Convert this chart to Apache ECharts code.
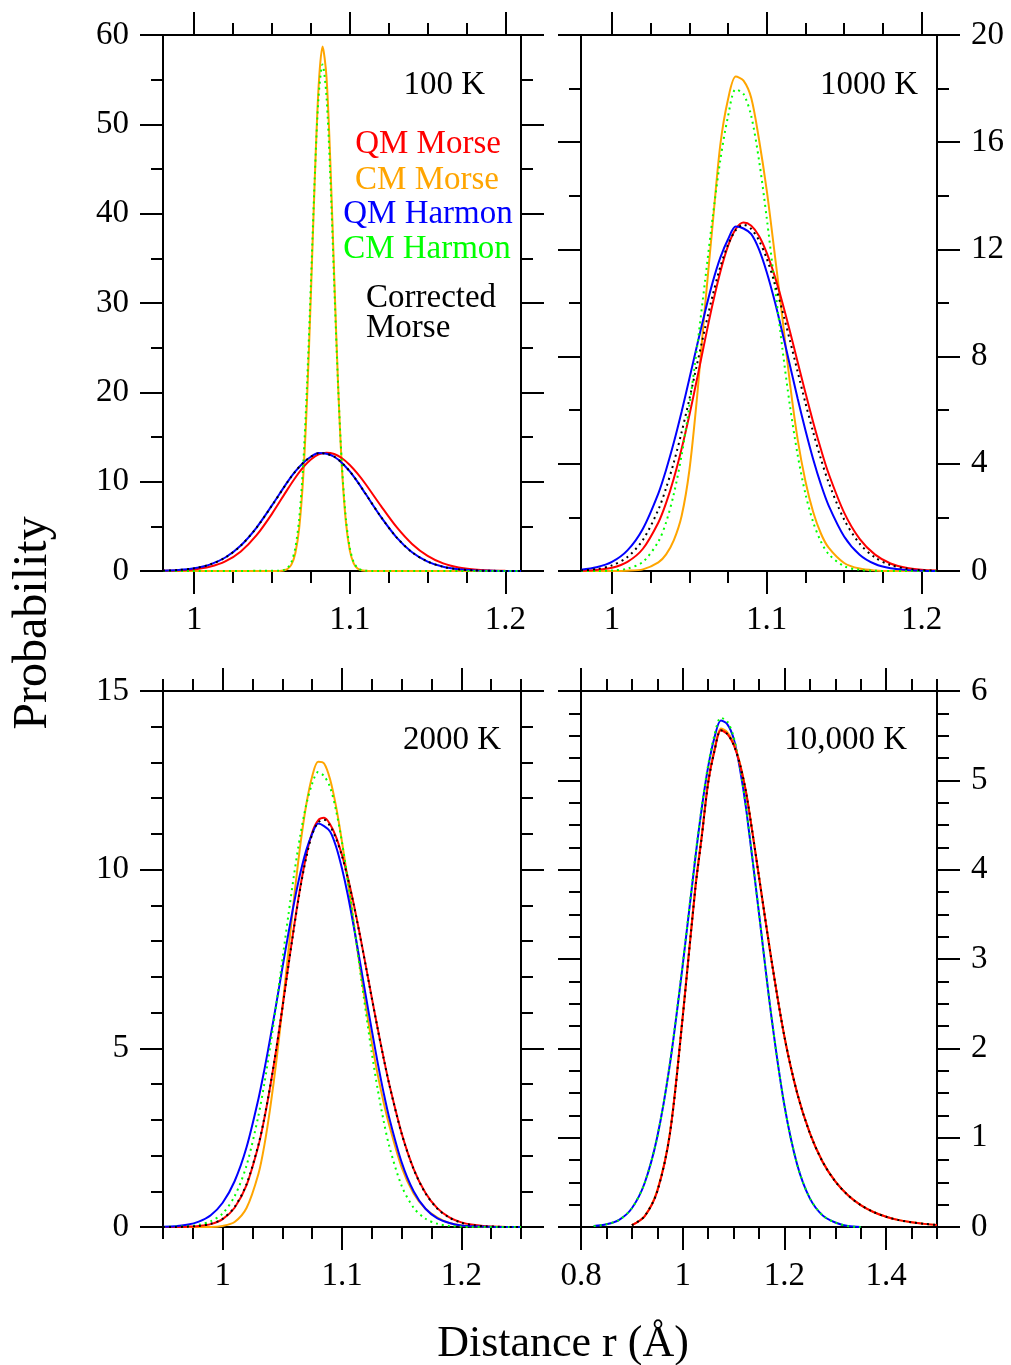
<!DOCTYPE html>
<html>
<head>
<meta charset="utf-8">
<script src="https://cdn.jsdelivr.net/npm/echarts@6/dist/echarts.min.js"></script>
<style>
  html, body { margin: 0; padding: 0; background: #fff; }
  #chart { width: 1011px; height: 1365px; }
</style>
</head>
<body>
<div id="chart"></div>
<script>
// ---- 100 K ----
const r100 = [0.98, 0.99, 1.00, 1.01, 1.02, 1.03, 1.04, 1.05, 1.06, 1.065, 1.07, 1.075, 1.08, 1.085,
  1.09, 1.095, 1.10, 1.105, 1.11, 1.12, 1.13, 1.14, 1.15, 1.16, 1.17, 1.18, 1.19, 1.20, 1.21];
const qmMorse100 = [0.02, 0.06, 0.18, 0.47, 1.07, 2.19, 3.98, 6.40, 9.14, 10.44, 11.59, 12.48, 13.05, 13.25,
  13.09, 12.62, 11.87, 10.9, 9.77, 7.29, 4.93, 3.03, 1.69, 0.85, 0.39, 0.16, 0.06, 0.02, 0.01];
const qmHarmon100 = [0.04, 0.11, 0.30, 0.71, 1.51, 2.86, 4.84, 7.34, 9.97, 11.14, 12.1, 12.79, 13.2, 13.12,
  12.79, 12.1, 11.14, 9.97, 8.67, 6.05, 3.77, 2.10, 1.05, 0.47, 0.19, 0.07, 0.02, 0.01, 0];
const corrMorse100 = [0.04, 0.11, 0.30, 0.71, 1.50, 2.85, 4.83, 7.33, 9.96, 11.14, 12.1, 12.79, 13.19, 13.11,
  12.8, 12.1, 11.15, 9.98, 8.68, 6.06, 3.78, 2.10, 1.05, 0.47, 0.19, 0.07, 0.02, 0.01, 0];
// narrow classical peaks are read on a finer grid
const rNarrow100 = [0.98, 1.055, 1.0575, 1.06, 1.0625, 1.065, 1.0675, 1.07, 1.0725, 1.075, 1.0775,
  1.08, 1.0825, 1.085, 1.0875, 1.09, 1.0925, 1.095, 1.0975, 1.1, 1.1025, 1.105, 1.1075, 1.11, 1.115, 1.21];
const cmMorse100 = [0, 0.01, 0.06, 0.22, 0.71, 1.98, 4.81, 10.3, 19.1, 30.9, 43.8,
  54.3, 58.7, 55.4, 45.8, 33.0, 20.8, 11.4, 5.49, 2.31, 0.85, 0.27, 0.08, 0.02, 0, 0];
const cmHarmon100 = [0, 0.03, 0.10, 0.34, 1.00, 2.58, 5.86, 11.7, 20.7, 32.1, 44.1,
  53.2, 56.7, 53.2, 44.1, 32.1, 20.7, 11.7, 5.86, 2.58, 1.00, 0.34, 0.10, 0.03, 0, 0];

// ---- 1000 K ----
const r1000 = [0.98, 0.99, 1.00, 1.01, 1.02, 1.03, 1.035, 1.04, 1.045, 1.05, 1.055, 1.06, 1.065, 1.07,
  1.075, 1.08, 1.085, 1.09, 1.095, 1.10, 1.105, 1.11, 1.115, 1.12, 1.125, 1.13, 1.135, 1.14,
  1.15, 1.16, 1.17, 1.18, 1.19, 1.20, 1.21];
const qmMorse1000 = [0.01, 0.04, 0.12, 0.34, 0.83, 1.81, 2.54, 3.46, 4.56, 5.81, 7.18, 8.59, 9.95, 11.16,
  12.13, 12.76, 13.0, 12.88, 12.50, 11.87, 11.03, 10.04, 8.94, 7.79, 6.65, 5.55, 4.54, 3.63,
  2.18, 1.20, 0.61, 0.28, 0.12, 0.05, 0.02];
const cmMorse1000 = [0, 0, 0, 0.01, 0.06, 0.32, 0.62, 1.15, 2.05, 3.75, 6.5, 9.8, 12.9, 15.9,
  17.6, 18.45, 18.3, 17.65, 16.1, 14.2, 11.9, 9.5, 7.0, 4.9, 3.35, 2.2, 1.4, 0.87,
  0.30, 0.09, 0.02, 0, 0, 0, 0];
const qmHarmon1000 = [0.05, 0.14, 0.34, 0.77, 1.58, 2.90, 3.78, 4.80, 5.94, 7.17, 8.42, 9.64, 10.76, 11.69,
  12.38, 12.85, 12.78, 12.57, 12.0, 11.15, 10.10, 8.92, 7.67, 6.43, 5.25, 4.17, 3.23, 2.44,
  1.29, 0.61, 0.26, 0.10, 0.04, 0.01, 0];
const cmHarmon1000 = [0, 0, 0.02, 0.09, 0.34, 1.10, 1.82, 2.88, 4.32, 6.16, 8.35, 10.75, 13.17, 15.33,
  16.97, 17.97, 17.8, 16.97, 15.33, 13.17, 10.75, 8.35, 6.16, 4.32, 2.88, 1.82, 1.10, 0.63,
  0.18, 0.04, 0.01, 0, 0, 0, 0];
const corrMorse1000 = [0.02, 0.07, 0.21, 0.52, 1.16, 2.29, 3.10, 4.06, 5.18, 6.41, 7.72, 9.03, 10.27, 11.35,
  12.18, 12.72, 12.92, 12.76, 12.33, 11.66, 10.77, 9.73, 8.60, 7.43, 6.27, 5.18, 4.18, 3.30,
  1.92, 1.02, 0.50, 0.22, 0.09, 0.03, 0.01];

// ---- 2000 K ----
const r2000 = [0.95, 0.96, 0.97, 0.98, 0.99, 1.00, 1.01, 1.02, 1.03, 1.035, 1.04, 1.045, 1.05, 1.055,
  1.06, 1.065, 1.07, 1.075, 1.08, 1.085, 1.09, 1.095, 1.10, 1.105, 1.11, 1.115, 1.12, 1.125, 1.13,
  1.135, 1.14, 1.15, 1.16, 1.17, 1.18, 1.19, 1.20, 1.21, 1.22, 1.23, 1.24, 1.25];
const qmMorse2000 = [0, 0, 0.01, 0.03, 0.08, 0.22, 0.54, 1.17, 2.28, 3.05, 3.96, 4.99, 6.12, 7.30,
  8.45, 9.50, 10.39, 11.04, 11.38, 11.45, 11.27, 10.92, 10.41, 9.77, 9.01, 8.18, 7.30, 6.41, 5.54,
  4.71, 3.94, 2.62, 1.63, 0.95, 0.52, 0.27, 0.13, 0.06, 0.02, 0.01, 0, 0];
const cmMorse2000 = [0, 0, 0, 0, 0, 0.03, 0.14, 0.53, 1.49, 2.30, 3.37, 4.64, 6.12, 7.70,
  9.26, 10.67, 11.81, 12.61, 13.02, 12.97, 12.53, 11.77, 10.78, 9.65, 8.46, 7.29, 6.18, 5.16, 4.25,
  3.47, 2.80, 1.67, 0.94, 0.51, 0.26, 0.11, 0.04, 0.02, 0.01, 0, 0, 0];
const qmHarmon2000 = [0.01, 0.02, 0.06, 0.15, 0.33, 0.68, 1.28, 2.23, 3.59, 4.41, 5.31, 6.26, 7.24, 8.20,
  9.10, 9.89, 10.54, 11.0, 11.29, 11.22, 11.07, 10.65, 10.03, 9.27, 8.38, 7.43, 6.46, 5.50, 4.58,
  3.74, 3.00, 1.81, 1.00, 0.51, 0.24, 0.11, 0.04, 0.02, 0.01, 0, 0, 0];
const cmHarmon2000 = [0, 0.01, 0.02, 0.06, 0.16, 0.38, 0.86, 1.72, 3.12, 4.03, 5.08, 6.24, 7.47, 8.71,
  9.90, 10.95, 11.81, 12.41, 12.73, 12.62, 12.31, 11.66, 10.76, 9.67, 8.47, 7.22, 6.01, 4.86, 3.84,
  2.95, 2.21, 1.15, 0.54, 0.23, 0.09, 0.03, 0.01, 0, 0, 0, 0, 0];
const corrMorse2000 = [0, 0, 0.01, 0.03, 0.09, 0.23, 0.56, 1.20, 2.31, 3.07, 3.98, 5.0, 6.12, 7.29,
  8.42, 9.47, 10.33, 10.99, 11.32, 11.40, 11.22, 10.87, 10.38, 9.74, 8.99, 8.16, 7.29, 6.40, 5.53,
  4.70, 3.93, 2.61, 1.62, 0.94, 0.51, 0.26, 0.12, 0.05, 0.02, 0.01, 0, 0];

// ---- 10,000 K ----
const rHarm10000 = [0.825, 0.85, 0.875, 0.90, 0.925, 0.95, 0.975, 1.00, 1.025, 1.0375, 1.05, 1.0625, 1.075,
  1.0875, 1.10, 1.1125, 1.125, 1.15, 1.175, 1.20, 1.225, 1.25, 1.275, 1.30, 1.325, 1.35];
const qmHarmon10000 = [0.01, 0.03, 0.08, 0.21, 0.49, 1.01, 1.83, 2.93, 4.14, 4.69, 5.15, 5.48, 5.67,
  5.63, 5.47, 5.13, 4.67, 3.51, 2.33, 1.36, 0.70, 0.32, 0.13, 0.05, 0.01, 0];
const cmHarmon10000 = [0.01, 0.03, 0.08, 0.21, 0.49, 1.01, 1.84, 2.95, 4.16, 4.71, 5.17, 5.51, 5.70,
  5.66, 5.49, 5.15, 4.68, 3.51, 2.33, 1.36, 0.70, 0.32, 0.13, 0.05, 0.01, 0];
const rMorse10000 = [0.90, 0.925, 0.95, 0.975, 1.00, 1.025, 1.0375, 1.05, 1.0625, 1.075, 1.0875, 1.10,
  1.1125, 1.125, 1.1375, 1.15, 1.175, 1.20, 1.225, 1.25, 1.275, 1.30, 1.325, 1.35, 1.375, 1.40,
  1.425, 1.45, 1.475, 1.50];
const qmMorse10000 = [0.02, 0.12, 0.40, 1.05, 2.35, 3.80, 4.37, 4.97, 5.33, 5.56, 5.52, 5.40,
  5.18, 4.85, 4.40, 3.92, 2.97, 2.13, 1.50, 1.05, 0.73, 0.51, 0.355, 0.245, 0.168, 0.114,
  0.077, 0.052, 0.035, 0.023];
const cmMorse10000 = [0.02, 0.12, 0.41, 1.06, 2.36, 3.82, 4.39, 4.99, 5.35, 5.58, 5.54, 5.42,
  5.19, 4.86, 4.40, 3.92, 2.97, 2.13, 1.50, 1.05, 0.73, 0.51, 0.355, 0.245, 0.168, 0.114,
  0.077, 0.052, 0.035, 0.023];
const corrMorse10000 = [0.02, 0.12, 0.40, 1.05, 2.35, 3.80, 4.37, 4.97, 5.33, 5.56, 5.52, 5.40,
  5.18, 4.85, 4.40, 3.92, 2.97, 2.13, 1.50, 1.05, 0.73, 0.51, 0.355, 0.245, 0.168, 0.114,
  0.077, 0.052, 0.035, 0.023];

// ---- ticks ----
const xMajorA = [1, 1.1, 1.2];
const xMinorA = [1.025, 1.05, 1.075, 1.125, 1.15, 1.175];
const xMajorC = [1, 1.1, 1.2];
const xMinorC = [0.95, 0.975, 1.025, 1.05, 1.075, 1.125, 1.15, 1.175, 1.225, 1.25];
const xMajorD = [0.8, 1, 1.2, 1.4];
const xMinorD = [0.85, 0.9, 0.95, 1.05, 1.1, 1.15, 1.25, 1.3, 1.35, 1.45, 1.5];
const yMajor100 = [0, 10, 20, 30, 40, 50, 60];
const yMinor100 = [5, 15, 25, 35, 45, 55];
const yMajor1000 = [0, 4, 8, 12, 16, 20];
const yMinor1000 = [2, 6, 10, 14, 18];
const yMajor2000 = [0, 5, 10, 15];
const yMinor2000 = [1, 2, 3, 4, 6, 7, 8, 9, 11, 12, 13, 14];
const yMajor10000 = [0, 1, 2, 3, 4, 5, 6];
const yMinor10000 = [0.25, 0.5, 0.75, 1.25, 1.5, 1.75, 2.25, 2.5, 2.75, 3.25, 3.5, 3.75,
  4.25, 4.5, 4.75, 5.25, 5.5, 5.75];

const FONT = '"Liberation Serif", "Times New Roman", serif';
const pair = (xs, ys) => xs.map((x, i) => [x, ys[i]]);

const panels = [
  { left: 163, top: 35, width: 358, xMin: 0.98, xMax: 1.21, yMax: 60,
    xMajor: xMajorA, xMinor: xMinorA, yMajor: yMajor100, yMinor: yMinor100, ySide: 'left',
    curves: [
      ['orange', pair(rNarrow100, cmMorse100), false],
      ['red', pair(r100, qmMorse100), false],
      ['blue', pair(r100, qmHarmon100), false],
      ['green', pair(rNarrow100, cmHarmon100), true],
      ['black', pair(r100, corrMorse100), true]
    ] },
  { left: 581, top: 35, width: 356, xMin: 0.98, xMax: 1.21, yMax: 20,
    xMajor: xMajorA, xMinor: xMinorA, yMajor: yMajor1000, yMinor: yMinor1000, ySide: 'right',
    curves: [
      ['orange', pair(r1000, cmMorse1000), false],
      ['red', pair(r1000, qmMorse1000), false],
      ['blue', pair(r1000, qmHarmon1000), false],
      ['green', pair(r1000, cmHarmon1000), true],
      ['black', pair(r1000, corrMorse1000), true]
    ] },
  { left: 163, top: 691, width: 358, xMin: 0.95, xMax: 1.25, yMax: 15,
    xMajor: xMajorC, xMinor: xMinorC, yMajor: yMajor2000, yMinor: yMinor2000, ySide: 'left',
    curves: [
      ['orange', pair(r2000, cmMorse2000), false],
      ['red', pair(r2000, qmMorse2000), false],
      ['blue', pair(r2000, qmHarmon2000), false],
      ['green', pair(r2000, cmHarmon2000), true],
      ['black', pair(r2000, corrMorse2000), true]
    ] },
  { left: 581, top: 691, width: 356, xMin: 0.8, xMax: 1.5, yMax: 6,
    xMajor: xMajorD, xMinor: xMinorD, yMajor: yMajor10000, yMinor: yMinor10000, ySide: 'right',
    curves: [
      ['blue', pair(rHarm10000, qmHarmon10000), false],
      ['green', pair(rHarm10000, cmHarmon10000), true],
      ['orange', pair(rMorse10000, cmMorse10000), false],
      ['red', pair(rMorse10000, qmMorse10000), false],
      ['black', pair(rMorse10000, corrMorse10000), true]
    ] }
];

const COLORS = { red: '#ff0000', orange: '#ffa500', blue: '#0000ff', green: '#00ff00', black: '#000000' };
const AXIS = { color: '#000', width: 2 };
const grid = [], xAxis = [], yAxis = [], series = [];

const makeAxis = (gi, pos, min, max, ticks, len, withLine, labels) => ({
  type: 'value', gridIndex: gi, position: pos, min, max,
  axisLine: { show: withLine, onZero: false, lineStyle: AXIS },
  axisTick: { show: true, inside: false, length: len, customValues: ticks, lineStyle: AXIS },
  axisLabel: labels
    ? { show: true, customValues: ticks, showMinLabel: true, showMaxLabel: true,
        margin: (pos === 'bottom' ? 33 : 34), padding: (pos === 'bottom' ? 0 : [9, 0, 0, 0]),
        color: '#000', fontSize: 33, fontFamily: FONT }
    : { show: false },
  splitLine: { show: false }
});

panels.forEach((p, i) => {
  grid.push({ left: p.left, top: p.top, width: p.width, height: 536, containLabel: false, outerBoundsMode: 'none' });
  const base = xAxis.length;
  xAxis.push(makeAxis(i, 'bottom', p.xMin, p.xMax, p.xMajor, 23, true, true));
  xAxis.push(makeAxis(i, 'bottom', p.xMin, p.xMax, p.xMinor, 12, false, false));
  xAxis.push(makeAxis(i, 'top', p.xMin, p.xMax, p.xMajor, 23, true, false));
  xAxis.push(makeAxis(i, 'top', p.xMin, p.xMax, p.xMinor, 12, false, false));
  yAxis.push(makeAxis(i, 'left', 0, p.yMax, p.yMajor, 23, true, p.ySide === 'left'));
  yAxis.push(makeAxis(i, 'left', 0, p.yMax, p.yMinor, 12, false, false));
  yAxis.push(makeAxis(i, 'right', 0, p.yMax, p.yMajor, 23, true, p.ySide === 'right'));
  yAxis.push(makeAxis(i, 'right', 0, p.yMax, p.yMinor, 12, false, false));
  p.curves.forEach(([c, data, dotted]) => {
    series.push({
      type: 'line', xAxisIndex: base, yAxisIndex: base, data,
      symbol: 'none', smooth: 0.3, silent: true,
      lineStyle: { color: COLORS[c], width: 2, type: dotted ? [2, 4] : 'solid' }
    });
  });
});

const txt = (text, x, y, color, align, size) => ({
  type: 'text', x, y, silent: true,
  style: { text, fill: color || '#000', font: (size || 33) + 'px ' + FONT,
    textAlign: align || 'left', textVerticalAlign: 'middle' }
});

const graphic = [
  txt('100 K', 485, 85, '#000', 'right'),
  txt('1000 K', 918, 85, '#000', 'right'),
  txt('2000 K', 501, 740, '#000', 'right'),
  txt('10,000 K', 907, 740, '#000', 'right'),
  txt('QM Morse', 428, 144, COLORS.red, 'center'),
  txt('CM Morse', 427, 180, COLORS.orange, 'center'),
  txt('QM Harmon', 428, 214, COLORS.blue, 'center'),
  txt('CM Harmon', 427, 249, COLORS.green, 'center'),
  txt('Corrected', 366, 298, '#000', 'left'),
  txt('Morse', 366, 328, '#000', 'left'),
  txt('Distance r (Å)', 563, 1344, '#000', 'center', 44),
  Object.assign(txt('Probability', 0, 0, '#000', 'center', 48), { x: 33, y: 623, rotation: Math.PI / 2 })
];

const chart = echarts.init(document.getElementById('chart'), null, { renderer: 'canvas' });
chart.setOption({ animation: false, backgroundColor: '#fff', grid, xAxis, yAxis, series, graphic });
</script>
</body>
</html>
